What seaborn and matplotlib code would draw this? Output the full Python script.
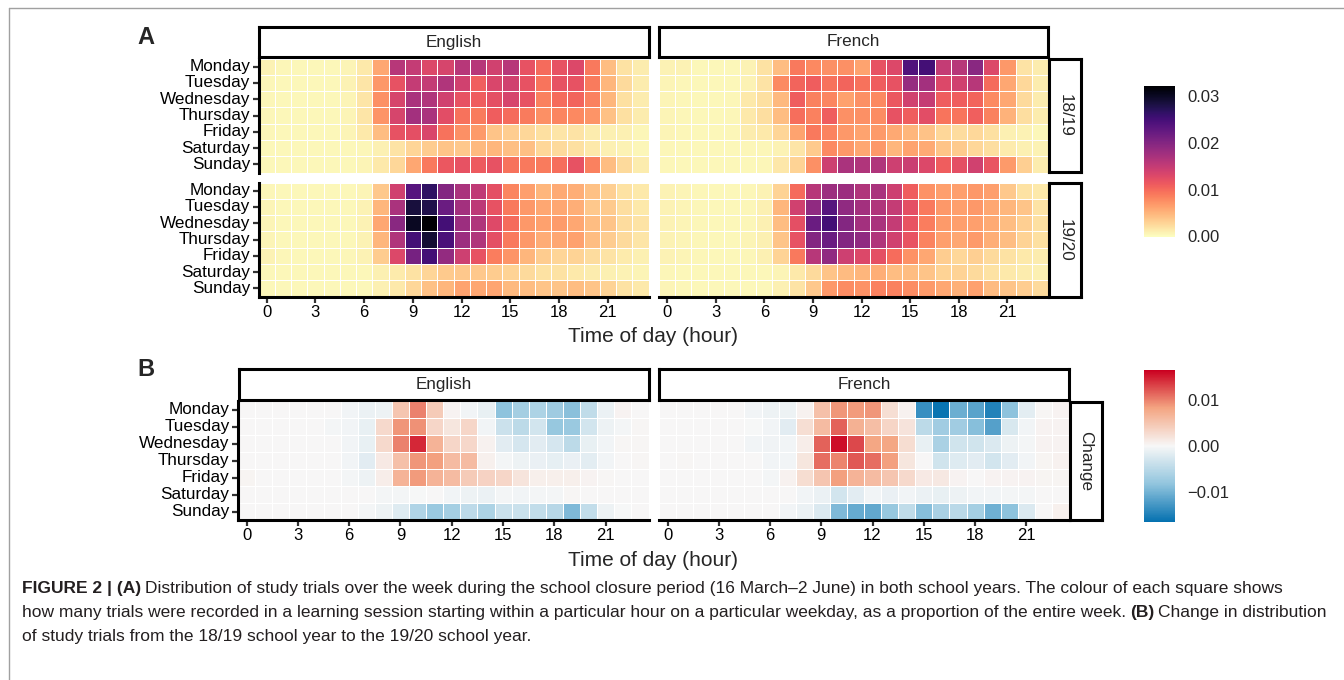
import numpy as np
import pandas as pd
import seaborn as sns
import matplotlib.pyplot as plt
from matplotlib.colors import LinearSegmentedColormap
from matplotlib.lines import Line2D

days = ["Monday", "Tuesday", "Wednesday", "Thursday", "Friday", "Saturday", "Sunday"]
hours = list(range(24))
hour_ticks = [0, 3, 6, 9, 12, 15, 18, 21]

# share of the week's trials, rows = days, columns = hour 0..23
eng_1819 = [
    [.0008, .0006, .0005, .0005, .0005, .0007, .0015, .0060, .0160, .0150, .0130, .0135, .0160, .0160, .0140, .0160, .0120, .0100, .0120, .0130, .0090, .0045, .0020, .0012],
    [.0006, .0005, .0005, .0005, .0005, .0008, .0017, .0070, .0120, .0150, .0150, .0165, .0140, .0108, .0132, .0140, .0120, .0093, .0120, .0120, .0088, .0050, .0025, .0012],
    [.0006, .0005, .0005, .0005, .0005, .0007, .0017, .0075, .0135, .0170, .0165, .0140, .0120, .0110, .0122, .0135, .0120, .0085, .0100, .0105, .0085, .0050, .0021, .0012],
    [.0006, .0005, .0005, .0005, .0005, .0007, .0017, .0072, .0135, .0175, .0170, .0125, .0095, .0088, .0110, .0100, .0088, .0075, .0082, .0080, .0072, .0042, .0021, .0012],
    [.0006, .0005, .0005, .0005, .0005, .0007, .0015, .0045, .0120, .0122, .0132, .0095, .0075, .0068, .0040, .0033, .0027, .0021, .0017, .0018, .0012, .0010, .0009, .0006],
    [.0005, .0004, .0004, .0004, .0004, .0005, .0006, .0009, .0018, .0028, .0035, .0040, .0037, .0047, .0050, .0043, .0043, .0027, .0024, .0021, .0015, .0010, .0008, .0006],
    [.0005, .0005, .0004, .0004, .0004, .0005, .0007, .0014, .0027, .0060, .0090, .0115, .0120, .0112, .0120, .0095, .0090, .0088, .0097, .0120, .0085, .0045, .0025, .0012],
]
fre_1819 = [
    [.0008, .0008, .0005, .0005, .0005, .0008, .0020, .0045, .0090, .0080, .0075, .0075, .0062, .0120, .0130, .0240, .0250, .0150, .0160, .0195, .0130, .0070, .0018, .0012],
    [.0007, .0006, .0005, .0005, .0005, .0008, .0018, .0078, .0105, .0110, .0095, .0105, .0095, .0110, .0120, .0185, .0175, .0130, .0140, .0160, .0100, .0060, .0026, .0012],
    [.0007, .0006, .0005, .0005, .0006, .0015, .0021, .0047, .0110, .0085, .0082, .0063, .0075, .0080, .0115, .0140, .0148, .0110, .0110, .0105, .0078, .0060, .0024, .0012],
    [.0007, .0006, .0005, .0005, .0006, .0014, .0022, .0045, .0097, .0085, .0110, .0075, .0075, .0077, .0120, .0110, .0125, .0093, .0093, .0108, .0085, .0052, .0022, .0012],
    [.0007, .0006, .0005, .0005, .0006, .0012, .0014, .0028, .0062, .0090, .0083, .0070, .0062, .0068, .0058, .0050, .0041, .0027, .0023, .0026, .0021, .0010, .0008, .0005],
    [.0006, .0005, .0005, .0005, .0005, .0006, .0006, .0008, .0017, .0036, .0078, .0070, .0060, .0070, .0050, .0062, .0057, .0040, .0036, .0027, .0022, .0013, .0010, .0008],
    [.0006, .0005, .0005, .0005, .0005, .0005, .0006, .0016, .0029, .0075, .0142, .0170, .0165, .0165, .0142, .0145, .0130, .0110, .0122, .0140, .0117, .0068, .0032, .0012],
]
eng_1920 = [
    [.0006, .0005, .0004, .0004, .0004, .0005, .0007, .0037, .0140, .0235, .0265, .0200, .0170, .0152, .0122, .0082, .0065, .0050, .0057, .0055, .0042, .0032, .0020, .0014],
    [.0007, .0005, .0004, .0004, .0004, .0005, .0008, .0050, .0170, .0285, .0278, .0220, .0175, .0155, .0120, .0090, .0070, .0060, .0060, .0055, .0037, .0036, .0022, .0015],
    [.0007, .0005, .0004, .0004, .0004, .0005, .0008, .0060, .0195, .0300, .0321, .0250, .0180, .0165, .0128, .0100, .0070, .0063, .0067, .0060, .0045, .0040, .0023, .0018],
    [.0007, .0005, .0004, .0004, .0004, .0005, .0008, .0050, .0165, .0250, .0290, .0245, .0180, .0165, .0122, .0090, .0070, .0056, .0060, .0063, .0044, .0035, .0025, .0017],
    [.0008, .0006, .0005, .0005, .0005, .0006, .0008, .0035, .0130, .0210, .0250, .0188, .0142, .0120, .0087, .0072, .0050, .0034, .0028, .0030, .0023, .0018, .0013, .0010],
    [.0005, .0004, .0004, .0004, .0004, .0004, .0005, .0010, .0013, .0020, .0028, .0036, .0037, .0037, .0034, .0029, .0025, .0020, .0019, .0015, .0012, .0010, .0008, .0007],
    [.0005, .0004, .0004, .0004, .0004, .0004, .0005, .0009, .0014, .0027, .0042, .0050, .0062, .0060, .0061, .0047, .0045, .0040, .0040, .0044, .0039, .0030, .0020, .0015],
]
fre_1920 = [
    [.0008, .0007, .0006, .0005, .0005, .0006, .0008, .0030, .0100, .0160, .0180, .0180, .0165, .0170, .0142, .0110, .0073, .0065, .0065, .0070, .0065, .0037, .0020, .0015],
    [.0008, .0007, .0006, .0005, .0005, .0006, .0009, .0050, .0140, .0190, .0235, .0190, .0175, .0165, .0150, .0122, .0090, .0070, .0065, .0070, .0060, .0050, .0040, .0018],
    [.0008, .0007, .0006, .0005, .0005, .0006, .0009, .0045, .0122, .0220, .0250, .0200, .0175, .0170, .0150, .0118, .0087, .0068, .0065, .0065, .0057, .0044, .0032, .0021],
    [.0008, .0007, .0006, .0005, .0005, .0007, .0010, .0040, .0120, .0200, .0220, .0200, .0190, .0165, .0140, .0118, .0083, .0065, .0060, .0068, .0055, .0044, .0030, .0021],
    [.0008, .0007, .0006, .0005, .0005, .0006, .0009, .0030, .0090, .0160, .0190, .0142, .0130, .0122, .0098, .0073, .0060, .0033, .0027, .0032, .0025, .0019, .0015, .0012],
    [.0006, .0005, .0005, .0004, .0004, .0005, .0005, .0007, .0014, .0025, .0040, .0046, .0050, .0055, .0045, .0045, .0040, .0030, .0030, .0025, .0020, .0015, .0012, .0010],
    [.0007, .0006, .0005, .0004, .0004, .0004, .0005, .0010, .0018, .0037, .0070, .0077, .0073, .0085, .0085, .0077, .0068, .0060, .0053, .0063, .0046, .0040, .0033, .0024],
]
# change from 18/19 to 19/20
eng_change = [
    [0, 0, 0, 0, 0, 0, -.0005, -.0010, -.0008, .0050, .0100, .0045, .0005, -.0005, -.0012, -.0085, -.0068, -.0060, -.0072, -.0087, -.0045, -.0010, .0004, 0],
    [0, 0, 0, 0, 0, -.0003, -.0005, -.0012, .0030, .0090, .0092, .0033, .0018, .0033, -.0005, -.0035, -.0048, -.0030, -.0078, -.0075, -.0030, -.0008, -.0003, .0002],
    [0, 0, 0, 0, 0, 0, -.0005, -.0012, .0030, .0100, .0145, .0068, .0033, .0032, .0006, -.0018, -.0028, -.0018, -.0028, -.0048, -.0012, -.0005, .0002, .0002],
    [.0001, 0, 0, 0, 0, 0, -.0004, -.0018, .0013, .0055, .0090, .0085, .0060, .0060, .0007, -.0003, -.0009, -.0011, -.0014, -.0011, -.0016, -.0004, 0, .0002],
    [.0003, .0001, 0, 0, 0, 0, -.0003, -.0008, .0010, .0068, .0087, .0068, .0060, .0045, .0037, .0033, .0019, .0008, .0008, .0008, .0005, .0002, 0, 0],
    [0, 0, 0, 0, 0, 0, 0, 0, -.0003, -.0003, -.0001, 0, -.0005, -.0009, -.0010, -.0003, -.0004, -.0003, -.0003, .0002, .0001, 0, 0, 0],
    [0, 0, 0, 0, 0, 0, 0, -.0003, -.0008, -.0020, -.0058, -.0075, -.0066, -.0047, -.0060, -.0037, -.0037, -.0043, -.0052, -.0093, -.0043, -.0009, -.0001, 0],
]
fre_change = [
    [0, 0, 0, 0, 0, -.0004, -.0009, -.0009, .0006, .0055, .0090, .0087, .0090, .0025, .0006, -.0135, -.0162, -.0105, -.0115, -.0148, -.0085, -.0016, .0002, .0004],
    [0, 0, 0, 0, 0, -.0001, -.0004, -.0017, .0025, .0060, .0115, .0070, .0058, .0034, .0020, -.0048, -.0070, -.0070, -.0088, -.0118, -.0025, -.0004, .0004, .0004],
    [0, 0, 0, 0, 0, -.0005, -.0006, -.0005, .0010, .0115, .0158, .0128, .0080, .0080, .0027, -.0012, -.0062, -.0031, -.0031, -.0022, -.0009, -.0003, .0004, .0004],
    [0, .0002, 0, 0, 0, 0, -.0005, -.0004, .0018, .0110, .0098, .0120, .0110, .0085, .0018, 0, -.0031, -.0020, -.0018, -.0030, -.0018, -.0004, .0003, .0006],
    [0, 0, 0, 0, 0, 0, -.0003, .0006, .0027, .0050, .0085, .0068, .0060, .0050, .0030, .0013, .0015, .0005, 0, .0004, .0004, .0004, .0003, .0003],
    [0, 0, 0, 0, 0, 0, 0, 0, -.0005, -.0010, -.0030, -.0018, -.0004, -.0011, -.0004, -.0010, -.0012, -.0008, -.0005, -.0004, -.0003, -.0003, 0, 0],
    [0, 0, 0, 0, 0, 0, 0, -.0004, -.0010, -.0023, -.0093, -.0107, -.0110, -.0078, -.0045, -.0088, -.0062, -.0050, -.0066, -.0103, -.0085, -.0022, 0, .0007],
]

sns.set_style("white")
plt.rcParams['font.family'] = ['Liberation Sans', 'DejaVu Sans']

W, H = 1344, 680
fig = plt.figure(figsize=(W / 100, H / 100), dpi=100)


def box(x0, y0, x1, y1):
    return [x0 / W, 1 - y1 / H, (x1 - x0) / W, (y1 - y0) / H]


def heat(data, rect, cmap, vmin, vmax, left_axis, bottom_axis):
    ax = fig.add_axes(box(*rect))
    df = pd.DataFrame(data, index=days, columns=hours)
    sns.heatmap(df, ax=ax, cmap=cmap, vmin=vmin, vmax=vmax, cbar=False,
                linewidths=0.6, linecolor='white')
    ax.set_xlabel('')
    ax.set_ylabel('')
    if bottom_axis:
        ax.set_xticks(np.array(hour_ticks) + 0.5)
        ax.set_xticklabels(hour_ticks, rotation=0, fontsize=12)
    else:
        ax.set_xticks([])
    if left_axis:
        ax.set_yticks(np.arange(7) + 0.5)
        ax.set_yticklabels(days, rotation=0, fontsize=12.3)
    else:
        ax.set_yticks([])
    for side, s in ax.spines.items():
        s.set_linewidth(2.2)
        s.set_color('black')
        s.set_visible((side == 'left' and left_axis) or (side == 'bottom' and bottom_axis))
    ax.tick_params(bottom=bottom_axis, left=left_axis, length=4, width=1.6,
                   color='#333333', pad=2, labelcolor='black')
    return ax


def strip(rect, text, rotation=0):
    ax = fig.add_axes(box(*rect))
    ax.set_xticks([])
    ax.set_yticks([])
    ax.set_facecolor('white')
    for s in ax.spines.values():
        s.set_visible(True)
        s.set_linewidth(2.2)
        s.set_color('black')
    ax.text(0.5, 0.5, text, ha='center', va='center', rotation=rotation,
            fontsize=12.3, transform=ax.transAxes)


cmap_a = plt.get_cmap('magma_r')
cmap_b = LinearSegmentedColormap.from_list(
    'rdbu5', ['#0571B0', '#92C5DE', '#F7F7F7', '#F4A582', '#CA0020'])
a_max = 0.0321
b_lim = 0.0165

# panel A
ax_e1 = heat(eng_1819, (258.5, 58.5, 648.5, 172.5), cmap_a, 0, a_max, True, False)
heat(fre_1819, (659, 58.5, 1048, 172.5), cmap_a, 0, a_max, False, False)
heat(eng_1920, (258.5, 182.5, 648.5, 296.5), cmap_a, 0, a_max, True, True)
heat(fre_1920, (659, 182.5, 1048, 296.5), cmap_a, 0, a_max, False, True)
strip((258.5, 27, 648.5, 57), "English")
strip((659, 27, 1048, 57), "French")
strip((1049, 59, 1081, 172), "18/19", rotation=-90)
strip((1049, 183, 1081, 297), "19/20", rotation=-90)

# panel B
ax_b = heat(eng_change, (238, 401.5, 648.5, 520), cmap_b, -b_lim, b_lim, True, True)
heat(fre_change, (659, 401.5, 1069, 520), cmap_b, -b_lim, b_lim, False, True)
strip((239, 369, 648.5, 400), "English")
strip((659, 369, 1069, 400), "French")
strip((1070, 402, 1102, 520), "Change", rotation=-90)


# colour bars
def colourbar(mesh, rect, ticks, labels):
    cax = fig.add_axes(box(*rect))
    cb = fig.colorbar(mesh, cax=cax, ticks=ticks)
    cb.outline.set_visible(False)
    cax.set_yticklabels(labels)
    cax.tick_params(axis='y', direction='in', color='white', length=6, width=1,
                    left=True, right=True, labelleft=False, labelright=True,
                    labelsize=12, pad=9)


colourbar(ax_e1.collections[0], (1144, 86, 1175, 236.5),
          [0, 0.01, 0.02, 0.03], ["0.00", "0.01", "0.02", "0.03"])
colourbar(ax_b.collections[0], (1144, 370, 1175, 522),
          [-0.01, 0, 0.01], ["\u22120.01", "0.00", "0.01"])

# labels
fig.text(137 / W, 1 - 38 / H, "A", fontsize=17, fontweight='bold', va='center', ha='left')
fig.text(137 / W, 1 - 370 / H, "B", fontsize=17, fontweight='bold', va='center', ha='left')
fig.text(653 / W, 1 - 336 / H, "Time of day (hour)", fontsize=15, va='center', ha='center')
fig.text(653 / W, 1 - 560 / H, "Time of day (hour)", fontsize=15, va='center', ha='center')

# frame of the figure box
fig.add_artist(Line2D([9 / W, 1], [1 - 8 / H, 1 - 8 / H], color='#a0a0a0', lw=1))
fig.add_artist(Line2D([9 / W, 9 / W], [1 - 8 / H, 0], color='#a0a0a0', lw=1))

# caption with bold pieces
renderer = fig.canvas.get_renderer()
cap_size = 12.48
cap_col = '#231f20'


def rich_line(x, y, parts):
    for txt, bold in parts:
        t = fig.text(x / W, 1 - y / H, txt, fontsize=cap_size, color=cap_col,
                     fontweight='bold' if bold else 'normal', va='center', ha='left')
        x += t.get_window_extent(renderer).width + 4


rich_line(22, 589, [("FIGURE 2 | (A)", True),
                    ("Distribution of study trials over the week during the school closure period "
                     "(16 March\u20132 June) in both school years. The colour of each square shows", False)])
rich_line(22, 613, [("how many trials were recorded in a learning session starting within a particular hour "
                     "on a particular weekday, as a proportion of the entire week.", False),
                    ("(B)", True), ("Change in distribution", False)])
rich_line(22, 637, [("of study trials from the 18/19 school year to the 19/20 school year.", False)])

fig.savefig("out.png", dpi=100)
